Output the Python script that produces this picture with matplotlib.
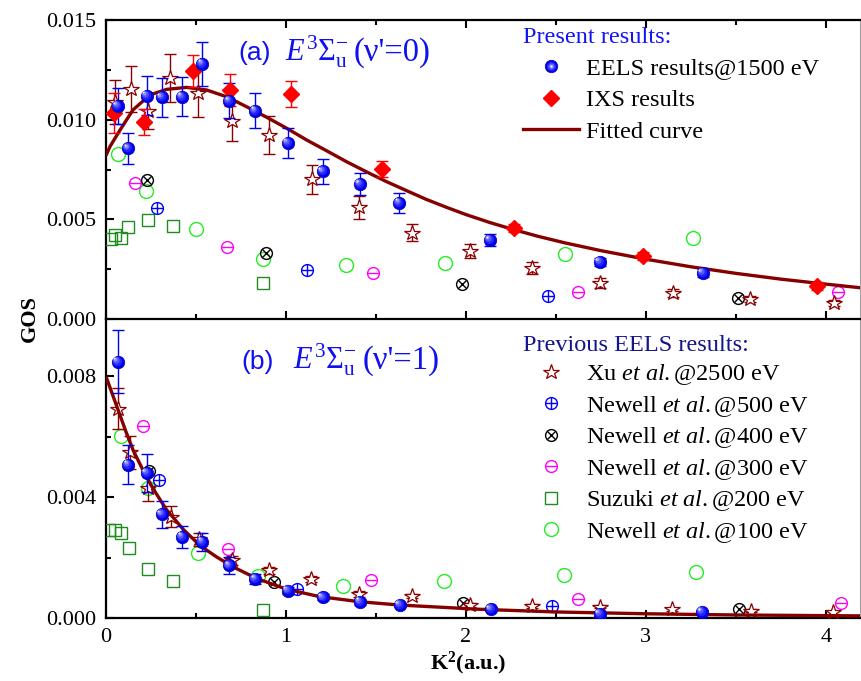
import numpy as np
import matplotlib
matplotlib.use("Agg")
import matplotlib.pyplot as plt
from matplotlib.lines import Line2D
from matplotlib.legend_handler import HandlerTuple
from matplotlib.ticker import MultipleLocator, FormatStrFormatter
from matplotlib.transforms import offset_copy

plt.rcParams['font.family'] = ['Liberation Serif', 'DejaVu Serif']
plt.rcParams['mathtext.fontset'] = 'custom'
plt.rcParams['mathtext.rm'] = 'Liberation Serif'
plt.rcParams['mathtext.it'] = 'Liberation Serif:italic'
plt.rcParams['mathtext.bf'] = 'Liberation Serif:bold'

# ---------------- panel (a): v'=0 ----------------
eels_a_x = [0.064, 0.124, 0.226, 0.309, 0.422, 0.535, 0.685, 0.83, 1.009, 1.204, 1.411, 1.63, 2.135, 2.744, 3.315]
eels_a_y = [10.69, 8.56, 11.2, 11.12, 11.15, 12.8, 10.94, 10.45, 8.85, 7.41, 6.77, 5.84, 3.96, 2.86, 2.31]
eels_a_err = [0.9, 0.79, 0.99, 0.98, 0.97, 1.1, 0.88, 0.88, 0.75, 0.64, 0.57, 0.5, 0.3, 0.22, 0.22]

ixs_a_x = [0.044, 0.213, 0.481, 0.689, 1.026, 1.531, 2.267, 2.983, 3.95]
ixs_a_y = [10.35, 9.9, 12.44, 11.49, 11.29, 7.51, 4.57, 3.16, 1.66]
ixs_a_err = [1.0, 0.65, 0.8, 0.8, 0.65, 0.4, 0.2, 0.2, 0.2]

xu_a_x = [0.05, 0.137, 0.235, 0.356, 0.513, 0.698, 0.907, 1.143, 1.406, 1.698, 2.022, 2.367, 2.744, 3.15, 3.578, 4.044]
xu_a_y = [10.9, 11.52, 10.44, 12.1, 11.32, 9.95, 9.23, 7.01, 5.6, 4.33, 3.41, 2.56, 1.81, 1.3, 1.0, 0.8]
xu_a_err = [1.1, 1.15, 0.9, 1.2, 1.2, 1.0, 0.94, 0.73, 0.57, 0.44, 0.35, 0.3, 0.25, 0.2, 0.15, 0.15]

n500_a_x = [0.285, 1.118, 2.456]
n500_a_y = [5.55, 2.46, 1.15]
n400_a_x = [0.226, 0.887, 1.98, 3.51]
n400_a_y = [6.97, 3.33, 1.76, 1.05]
n300_a_x = [0.159, 0.67, 1.485, 2.622, 4.07]
n300_a_y = [6.84, 3.63, 2.29, 1.35, 1.35]
suz_a_x = [0.028, 0.05, 0.082, 0.124, 0.231, 0.37, 0.874]
suz_a_y = [4.0, 4.2, 4.05, 4.6, 4.97, 4.68, 1.82]
n100_a_x = [0.068, 0.222, 0.5, 0.87, 1.331, 1.883, 2.55, 3.26]
n100_a_y = [8.28, 6.44, 4.52, 3.01, 2.71, 2.79, 3.26, 4.06]

fit_a_x = [0.0, 0.022, 0.078, 0.15, 0.244, 0.337, 0.448, 0.559, 0.67, 0.781, 0.893, 1.004,
           1.115, 1.226, 1.337, 1.448, 1.559, 1.67, 1.78, 1.893, 2.0, 2.133, 2.267, 2.4,
           2.55, 2.75, 3.0, 3.25, 3.5, 3.75, 4.0, 4.2]
fit_a_y = [8.2, 8.65, 9.48, 10.49, 11.24, 11.52, 11.62, 11.49, 11.15, 10.65, 10.12, 9.57,
           8.98, 8.44, 7.89, 7.38, 6.89, 6.44, 6.0, 5.6, 5.24, 4.84, 4.48, 4.15,
           3.82, 3.43, 3.0, 2.62, 2.29, 2.0, 1.75, 1.56]

# ---------------- panel (b): v'=1 ----------------
eels_b_x = [0.065, 0.124, 0.226, 0.309, 0.424, 0.535, 0.685, 0.83, 1.009, 1.204, 1.411, 1.633, 2.137, 2.744, 3.313]
eels_b_y = [8.49, 5.08, 4.8, 3.43, 2.69, 2.52, 1.74, 1.29, 0.91, 0.68, 0.54, 0.43, 0.29, 0.13, 0.2]
eels_b_err = [1.03, 0.65, 0.63, 0.46, 0.36, 0.3, 0.27, 0.18, 0.12, 0.1, 0.1, 0.08, 0.06, 0.05, 0.05]

xu_b_x = [0.068, 0.133, 0.235, 0.359, 0.517, 0.698, 0.907, 1.137, 1.406, 1.698, 2.022, 2.368, 2.744, 3.146, 3.583, 4.04]
xu_b_y = [6.93, 5.49, 4.32, 3.36, 2.6, 1.91, 1.58, 1.3, 0.8, 0.73, 0.43, 0.4, 0.38, 0.29, 0.24, 0.19]
xu_b_err = [0.68, 0.55, 0.43, 0.35, 0.2, 0.15, 0.12, 0.1, 0.1, 0.08, 0.06, 0.06, 0.05, 0.05, 0.05, 0.05]

n500_b_x = [0.296, 1.063, 2.476]
n500_b_y = [4.57, 0.96, 0.4]
n400_b_x = [0.239, 0.933, 1.985, 3.518]
n400_b_y = [4.88, 1.19, 0.51, 0.3]
n300_b_x = [0.204, 0.68, 1.472, 2.624, 4.083]
n300_b_y = [6.36, 2.29, 1.27, 0.63, 0.51]
suz_b_x = [0.018, 0.05, 0.083, 0.128, 0.231, 0.37, 0.874]
suz_b_y = [2.91, 2.91, 2.82, 2.32, 1.62, 1.21, 0.27]
n100_b_x = [0.082, 0.235, 0.513, 0.846, 1.318, 1.88, 2.546, 3.278]
n100_b_y = [6.04, 4.29, 2.16, 1.38, 1.07, 1.24, 1.43, 1.51]

fit_b_x = [0.0, 0.041, 0.078, 0.115, 0.152, 0.207, 0.263, 0.337, 0.43, 0.522, 0.615, 0.707,
           0.837, 1.0, 1.185, 1.407, 1.63, 2.07, 2.5, 3.0, 3.5, 4.2]
fit_b_y = [8.0, 7.32, 6.71, 6.1, 5.54, 4.88, 4.27, 3.58, 2.93, 2.4, 2.02, 1.69,
           1.31, 0.96, 0.71, 0.54, 0.43, 0.29, 0.2, 0.14, 0.1, 0.07]

S = 1e-3  # values above are in units of 1e-3

C_EELS = '#0000f0'
C_IXS = '#ff0000'
C_XU = '#8b0000'
C_FIT = '#860000'
C_N500 = '#0000ff'
C_N400 = '#000000'
C_N300 = '#ff00ff'
C_SUZ = '#1e8c1e'
C_N100 = '#22ee22'
STAR_MS = 11.5

fig = plt.figure(figsize=(8.62, 6.81), dpi=100)
axL, axR = 106 / 862, 860 / 862
ax_a = fig.add_axes([axL, 1 - 319 / 681, axR - axL, 299 / 681])
ax_b = fig.add_axes([axL, 1 - 618 / 681, axR - axL, 299 / 681])

SPHERE_LAYERS = [(0.74, '#2424ff'), (0.52, '#5656ff'), (0.32, '#9494ff'), (0.15, '#eeeeff')]


def sphere_handles(ms):
    base = Line2D([], [], ls='none', marker='o', ms=ms, mfc=C_EELS, mec='#0000a8', mew=0.5)
    hs = [base]
    for frac, col in SPHERE_LAYERS:
        hs.append(Line2D([], [], ls='none', marker='o', ms=ms * frac, mfc=col, mec='none'))
    return tuple(hs)


def draw_spheres(ax, x, y, ms=9.0):
    ax.plot(x, y, ls='none', marker='o', ms=ms, mfc=C_EELS, mec='#0000a8', mew=0.5, zorder=6)
    for frac, col in SPHERE_LAYERS:
        d = ms * (1 - frac) * 0.32
        tr = offset_copy(ax.transData, fig=fig, x=-d, y=d, units='points')
        ax.plot(x, y, ls='none', marker='o', ms=ms * frac, mfc=col, mec='none',
                transform=tr, zorder=6.1)


def draw_circle_mark(ax, x, y, color, inner, ms=8.5, z=4):
    ax.plot(x, y, ls='none', marker='o', ms=ms, mfc='none', mec=color, mew=1.0, zorder=z)
    if inner == 'x':
        ax.plot(x, y, ls='none', marker='x', ms=ms * 0.7, mec=color, mew=1.0, zorder=z)
    elif inner is not None:
        ax.plot(x, y, ls='none', marker=inner, ms=ms, mec=color, mew=1.0, zorder=z)


def circle_handle(color, inner, ms=8.5):
    hs = [Line2D([], [], ls='none', marker='o', ms=ms, mfc='none', mec=color, mew=1.0)]
    if inner == 'x':
        hs.append(Line2D([], [], ls='none', marker='x', ms=ms * 0.7, mec=color, mew=1.0))
    elif inner is not None:
        hs.append(Line2D([], [], ls='none', marker=inner, ms=ms, mec=color, mew=1.0))
    return tuple(hs)


def draw_panel(ax, d):
    s = lambda v: np.asarray(v) * S
    # previous EELS data
    draw_circle_mark(ax, d['n100x'], s(d['n100y']), C_N100, None, ms=10)
    ax.plot(d['suzx'], s(d['suzy']), ls='none', marker='s', ms=8, mfc='none', mec=C_SUZ, mew=1.0, zorder=4)
    draw_circle_mark(ax, d['n300x'], s(d['n300y']), C_N300, '_')
    draw_circle_mark(ax, d['n400x'], s(d['n400y']), C_N400, 'x')
    draw_circle_mark(ax, d['n500x'], s(d['n500y']), C_N500, '+')
    ax.errorbar(d['xux'], s(d['xuy']), yerr=s(d['xue']), fmt='none', ecolor=C_XU,
                elinewidth=1.0, capsize=4, capthick=1.0, zorder=4)
    ax.plot(d['xux'], s(d['xuy']), ls='none', marker='*', ms=STAR_MS, mfc='white', mec=C_XU,
            mew=0.9, zorder=4.5)
    # fitted curve
    ax.plot(d['fitx'], s(d['fity']), color=C_FIT, lw=2.4, zorder=5, solid_capstyle='butt')
    # present EELS data
    ax.errorbar(d['eelsx'], s(d['eelsy']), yerr=s(d['eelse']), fmt='none', ecolor=C_EELS,
                elinewidth=1.0, capsize=4, capthick=1.0, zorder=5.5)
    draw_spheres(ax, d['eelsx'], s(d['eelsy']))


draw_panel(ax_a, dict(n100x=n100_a_x, n100y=n100_a_y, suzx=suz_a_x, suzy=suz_a_y,
                      n300x=n300_a_x, n300y=n300_a_y, n400x=n400_a_x, n400y=n400_a_y,
                      n500x=n500_a_x, n500y=n500_a_y, xux=xu_a_x, xuy=xu_a_y, xue=xu_a_err,
                      fitx=fit_a_x, fity=fit_a_y, eelsx=eels_a_x, eelsy=eels_a_y, eelse=eels_a_err))
# IXS results only in panel (a)
ax_a.errorbar(ixs_a_x, np.asarray(ixs_a_y) * S, yerr=np.asarray(ixs_a_err) * S, fmt='none',
              ecolor=C_IXS, elinewidth=1.0, capsize=4, capthick=1.0, zorder=5.6)
ax_a.plot(ixs_a_x, np.asarray(ixs_a_y) * S, ls='none', marker='D', ms=8, mfc=C_IXS, mec=C_IXS, zorder=5.7)

draw_panel(ax_b, dict(n100x=n100_b_x, n100y=n100_b_y, suzx=suz_b_x, suzy=suz_b_y,
                      n300x=n300_b_x, n300y=n300_b_y, n400x=n400_b_x, n400y=n400_b_y,
                      n500x=n500_b_x, n500y=n500_b_y, xux=xu_b_x, xuy=xu_b_y, xue=xu_b_err,
                      fitx=fit_b_x, fity=fit_b_y, eelsx=eels_b_x, eelsy=eels_b_y, eelse=eels_b_err))

# ---------------- axes styling ----------------
for ax in (ax_a, ax_b):
    ax.set_xlim(0, 4.19)
    ax.xaxis.set_major_locator(MultipleLocator(1))
    ax.xaxis.set_minor_locator(MultipleLocator(0.5))
    ax.tick_params(which='both', direction='in', width=1.5, labelsize=16, pad=7)
    ax.tick_params(which='major', length=6)
    ax.tick_params(which='minor', length=3.5)
    for sp in ('left', 'bottom'):
        ax.spines[sp].set_linewidth(1.6)
    ax.spines['right'].set_linewidth(0.8)
    ax.spines['right'].set_color('#a0a0a0')
    ax.yaxis.set_major_formatter(FormatStrFormatter('%.3f'))

ax_a.set_ylim(0, 0.015)
ax_a.yaxis.set_major_locator(MultipleLocator(0.005))
ax_a.yaxis.set_minor_locator(MultipleLocator(0.0025))
ax_a.tick_params(which='both', top=True, labelbottom=False)
ax_a.spines['top'].set_linewidth(1.6)

ax_b.set_ylim(0, 0.0099)
ax_b.yaxis.set_major_locator(MultipleLocator(0.004))
ax_b.yaxis.set_minor_locator(MultipleLocator(0.002))
ax_b.spines['top'].set_visible(False)
ax_b.set_zorder(0)
ax_a.set_zorder(1)
ax_a.patch.set_alpha(0)

# ---------------- state labels ----------------
TXT_BLUE = '#1010f0'
for ax, tag, state, yb in ((ax_a, '(a)', "(ν'=0)", 0.865), (ax_b, '(b)', "(ν'=1)", 0.833)):
    x0 = 0.175 if tag == '(a)' else 0.18
    xe = 0.237 if tag == '(a)' else 0.248
    ax.text(x0, yb, tag, transform=ax.transAxes, family='Liberation Sans',
            fontsize=19, color=TXT_BLUE, va='baseline')
    ax.text(xe, yb, r"$E^{3}\Sigma_{\mathrm{u}}^{-}$", transform=ax.transAxes,
            fontsize=22, color=TXT_BLUE, va='baseline')
    ax.text(xe + 0.092, yb, state, transform=ax.transAxes,
            fontsize=23.5, color=TXT_BLUE, va='baseline')

# ---------------- legends ----------------
leg_kw = dict(loc='upper left', frameon=False, fontsize=17.5, title_fontsize=17.5,
              alignment='left', handlelength=2.3, handletextpad=0.3,
              borderpad=0, borderaxespad=0, handler_map={tuple: HandlerTuple()})

h_fit = Line2D([], [], color=C_FIT, lw=2.4)
h_ixs = Line2D([], [], ls='none', marker='D', ms=8, mfc=C_IXS, mec=C_IXS)
leg_a = ax_a.legend([sphere_handles(9.0), h_ixs, h_fit],
                    ['EELS results@1500 eV', 'IXS results', 'Fitted curve'],
                    title='Present results:', bbox_to_anchor=(0.553, 0.978),
                    labelspacing=0.4, **leg_kw)
leg_a.get_title().set_color('#1414f5')

h_xu = Line2D([], [], ls='none', marker='*', ms=STAR_MS, mfc='white', mec=C_XU, mew=0.9)
h_suz = Line2D([], [], ls='none', marker='s', ms=8, mfc='none', mec=C_SUZ, mew=1.0)
leg_b = ax_b.legend([h_xu, circle_handle(C_N500, '+'), circle_handle(C_N400, 'x'),
                     circle_handle(C_N300, '_'), h_suz, circle_handle(C_N100, None, ms=10)],
                    [r'Xu $\mathit{et\ al.}$@2500 eV', r'Newell $\mathit{et\ al.}$@500 eV',
                     r'Newell $\mathit{et\ al.}$@400 eV', r'Newell $\mathit{et\ al.}$@300 eV',
                     r'Suzuki $\mathit{et\ al.}$@200 eV', r'Newell $\mathit{et\ al.}$@100 eV'],
                    title='Previous EELS results:', bbox_to_anchor=(0.553, 0.947),
                    labelspacing=0.27, **leg_kw)
leg_b.get_title().set_color('#14148c')

# ---------------- axis titles ----------------
fig.text(30 / 862, 1 - 318 / 681, 'GOS', rotation=90, fontsize=16, fontweight='bold',
         ha='center', va='center')
fig.text(468 / 862, 1 - 663 / 681, r'$\mathbf{K^{2}}$(a.u.)', fontsize=16, fontweight='bold',
         ha='center', va='center')

fig.savefig('out.png', dpi=100)
